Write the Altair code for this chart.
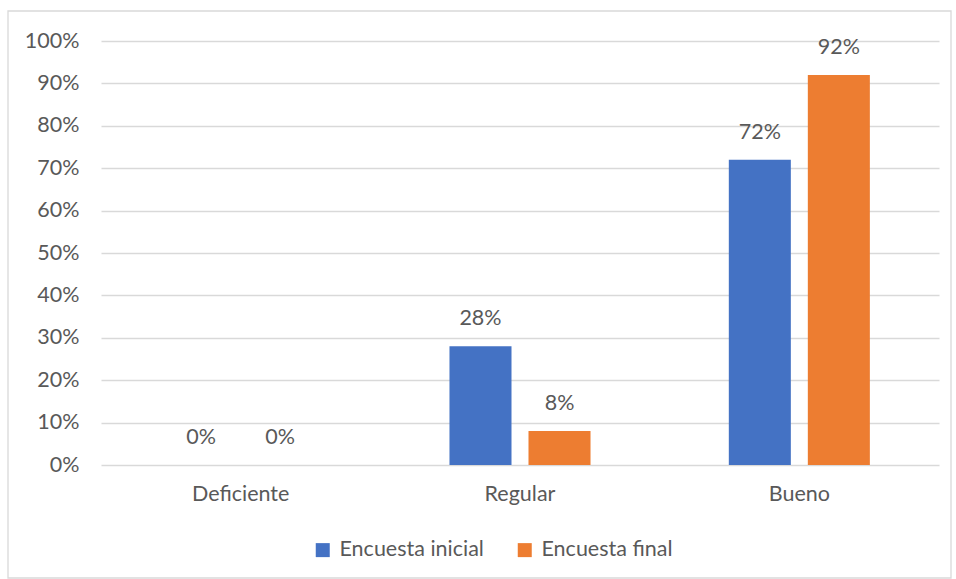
import altair as alt
import pandas as pd

# Survey results by rating level
categories = ["Deficiente", "Regular", "Bueno"]
series_names = ["Encuesta inicial", "Encuesta final"]
inicial = [0.00, 0.28, 0.72]
final = [0.00, 0.08, 0.92]

colors = ["#4472C4", "#ED7D31"]
text_color = "#595959"
grid_color = "#D9D9D9"
font = "Lato"
fs = 21.5

rows = []
for cat, a, b in zip(categories, inicial, final):
    rows.append({"Nivel": cat, "Serie": series_names[0], "Valor": a})
    rows.append({"Nivel": cat, "Serie": series_names[1], "Valor": b})
df = pd.DataFrame(rows)

W, H = 838, 424

x_enc = alt.X("Nivel:N", sort=categories,
              scale=alt.Scale(paddingInner=0, paddingOuter=0),
              axis=alt.Axis(title=None, labelAngle=0, domain=False, ticks=False,
                            labelPadding=18, labelFontSize=fs, labelColor=text_color,
                            labelFont=font))
xoff_enc = alt.XOffset("Serie:N", sort=series_names,
                       scale=alt.Scale(paddingInner=0.215, paddingOuter=0.875))
y_enc = alt.Y("Valor:Q", scale=alt.Scale(domain=[0, 1], nice=False),
              axis=alt.Axis(title=None, format=".0%", values=[i / 10 for i in range(11)],
                            domain=False, ticks=False, labelPadding=22,
                            labelFontSize=fs, labelColor=text_color, labelFont=font,
                            gridColor=grid_color, gridWidth=1.3))
color_enc = alt.Color("Serie:N", sort=series_names,
                      scale=alt.Scale(domain=series_names, range=colors),
                      legend=alt.Legend(title=None, orient="none", direction="horizontal",
                                        legendX=211, legendY=498,
                                        symbolType="square", symbolSize=196,
                                        symbolStrokeWidth=0, symbolOpacity=1,
                                        labelFontSize=fs, labelColor=text_color,
                                        labelFont=font, labelOffset=6,
                                        columnPadding=30))

base = alt.Chart(df)

bars = base.mark_bar().encode(x=x_enc, xOffset=xoff_enc, y=y_enc, color=color_enc)

labels = base.mark_text(baseline="bottom", dy=-16, fontSize=fs, color=text_color,
                        font=font).encode(
    x=alt.X("Nivel:N", sort=categories), xOffset=xoff_enc, y="Valor:Q",
    text=alt.Text("Valor:Q", format=".0%"))

# Outer frame around the chart
frame = alt.Chart(pd.DataFrame({"k": [0]})).mark_rect(
    fill=None, stroke=grid_color, strokeWidth=1.3, clip=False).encode(
    x=alt.value(-93), x2=alt.value(850), y=alt.value(-30), y2=alt.value(537))

chart = alt.layer(frame, bars, labels).properties(
    width=W, height=H,
    autosize=alt.AutoSizeParams(type="none"),
    padding={"left": 101, "top": 41, "right": 17, "bottom": 114},
    background="white",
).configure_view(stroke=None)

chart.save("out.html", embed_options={"renderer": "svg", "actions": False})
